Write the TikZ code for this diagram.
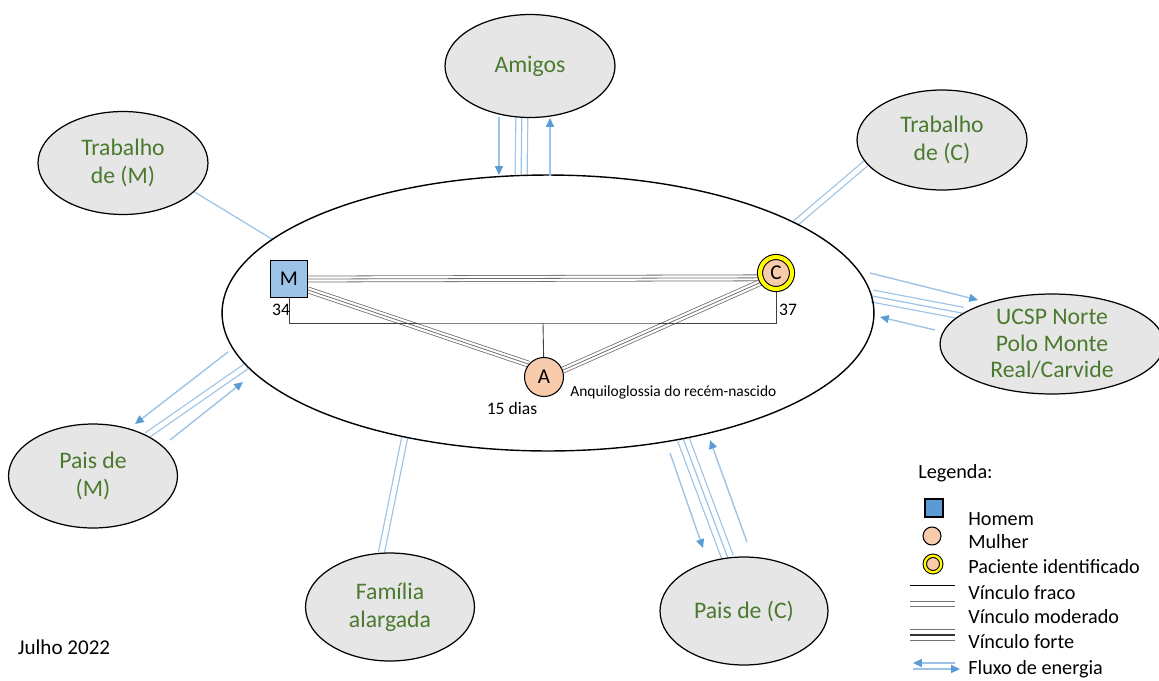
\documentclass[tikz,border=0pt]{standalone}
\usepackage{fontspec}
\setmainfont{Carlito}
\usetikzlibrary{shapes.geometric,arrows.meta,backgrounds}
\definecolor{cinza}{HTML}{E7E6E6}
\definecolor{verde}{HTML}{4A7A2E}
\definecolor{azulclaro}{HTML}{9DC3E6}
\definecolor{azul}{HTML}{5B9BD5}
\definecolor{pele}{HTML}{F8CBAD}
\definecolor{amarelo}{HTML}{FFFF00}
\definecolor{traco}{HTML}{6E6E6E}
\tikzset{
    sistema/.style={ellipse, draw, line width=0.7pt, fill=cinza, text=verde, align=center, inner sep=0pt, font=\fontsize{13.5}{16}\selectfont},
    homem/.style={draw, line width=0.6pt, fill=azulclaro, minimum size=0.74cm, inner sep=0pt, font=\fontsize{12}{14}\selectfont},
    mulher/.style={circle, draw, line width=0.6pt, fill=pele, minimum size=0.78cm, inner sep=0pt, font=\fontsize{12}{14}\selectfont},
    paciente/.style={circle, draw, line width=0.6pt, double=amarelo, double distance=2.3pt, fill=pele, minimum size=0.64cm, inner sep=0pt, font=\fontsize{12}{14}\selectfont},
    rotulo/.style={inner sep=0pt, font=\fontsize{10}{12}\selectfont},
    legenda/.style={anchor=west, inner sep=0pt, font=\fontsize{11.5}{14}\selectfont},
    fraco/.style={draw=azulclaro, line width=0.7pt},
    moderado/.style={draw=white, line width=2.7pt, preaction={draw=azulclaro, line width=4.1pt}},
    forte/.style={draw=azulclaro, line width=0.7pt, preaction={draw=azulclaro, line width=7.5pt}, preaction={draw=white, line width=6.1pt}},
    gfraco/.style={draw=black!75, line width=0.5pt},
    gforte/.style={draw=traco, line width=0.45pt, preaction={draw=traco, line width=3.85pt}, preaction={draw=white, line width=2.95pt}},
    lmoderado/.style={draw=white, line width=2pt, preaction={draw=black!55, line width=3.2pt}},
    lforte/.style={draw=black!80, line width=0.6pt, preaction={draw=black!55, line width=6.8pt}, preaction={draw=white, line width=5.6pt}},
    fluxo/.style={draw=azulclaro, line width=0.8pt, -{Triangle[length=5pt, width=4.5pt, color=azul]}}
}
\begin{document}
\begin{tikzpicture}[x=0.02cm, y=-0.02cm]
    \useasboundingbox (0,0) rectangle (1159,680);
    \node[ellipse, draw, line width=0.8pt, minimum width=13.04cm, minimum height=5.52cm] (sis) at (548,313) {};
    \node[sistema, minimum width=3.4cm, minimum height=2.06cm] (am) at (530,66) {Amigos};
    \node[sistema, minimum width=3.4cm, minimum height=2.06cm] (tm) at (123,163) {Trabalho\\de (M)};
    \node[sistema, minimum width=3.4cm, minimum height=2cm] (tc) at (942,140) {Trabalho\\de (C)};
    \node[sistema, minimum width=4.48cm, minimum height=2cm, font=\fontsize{13.5}{15}\selectfont] (ucsp) at (1052,344) {UCSP Norte\\Polo Monte\\Real/Carvide};
    \node[sistema, minimum width=3.38cm, minimum height=2.08cm] (pm) at (93,476) {Pais de\\(M)};
    \node[sistema, minimum width=3.38cm, minimum height=2.16cm] (fa) at (390,607) {Família\\alargada};
    \node[sistema, minimum width=3.36cm, minimum height=2.16cm] (pc) at (744,611) {Pais de (C)};
    \node[homem] (m) at (289,279) {M};
    \node[paciente] (c) at (776,273) {C};
    \node[mulher] (a) at (544,377) {A};
    \node[rotulo] (im) at (281,310) {34};
    \node[rotulo] (ic) at (788,310) {37};
    \node[rotulo] (ia) at (512,408) {15 dias};
    \node[rotulo, anchor=west, font=\fontsize{8.8}{10}\selectfont] (diag) at (570,392) {Anquiloglossia do recém-nascido};
    \node[rotulo, font=\fontsize{12}{14}\selectfont] (data) at (64,647) {Julho 2022};
    \coordinate (u) at (543,323);
    \coordinate (am1) at (499,117);
    \coordinate (am2) at (499,175);
    \coordinate (am3) at (550,176);
    \coordinate (am4) at (550,118);
    \coordinate (uc1) at (870,273);
    \coordinate (uc2) at (978,300);
    \coordinate (uc3) at (935,330);
    \coordinate (uc4) at (880,317);
    \coordinate (pm1) at (228,352);
    \coordinate (pm2) at (135,424);
    \coordinate (pm3) at (170,440);
    \coordinate (pm4) at (243,382);
    \coordinate (pc1) at (670,453);
    \coordinate (pc2) at (703,548);
    \coordinate (pc3) at (747,542);
    \coordinate (pc4) at (710,440);
    \begin{scope}[on background layer]
    \draw[fraco] (tm.-22) -- (sis.165);
    \draw[forte] (am.-99) -- (sis.101);
    \draw[moderado] (tc.-163) -- (sis.20);
    \draw[forte] (ucsp.161) -- (sis.3);
    \draw[moderado] (pm.37) -- (sis.-170);
    \draw[moderado] (fa.99) -- (sis.-139);
    \draw[forte] (pc.107) -- (sis.-43);
    \draw[gforte] (m.east) -- (c.197);
    \draw[gforte] (m.-30) -- (a.140);
    \draw[gforte] (c.212) -- (a.20);
    \draw[gfraco] (m.south) |- (u) -| (c.south);
    \draw[gfraco] (u) -- (a);
    \end{scope}
    \draw[fluxo] (am1) -- (am2);
    \draw[fluxo] (am3) -- (am4);
    \draw[fluxo] (uc1) -- (uc2);
    \draw[fluxo] (uc3) -- (uc4);
    \draw[fluxo] (pm1) -- (pm2);
    \draw[fluxo] (pm3) -- (pm4);
    \draw[fluxo] (pc1) -- (pc2);
    \draw[fluxo] (pc3) -- (pc4);
    \node[legenda] (leg) at (918,473) {Legenda:};
    \node[homem, fill=azul, minimum size=0.36cm] (lh) at (934,508) {};
    \node[legenda] (th) at (968,519) {Homem};
    \node[mulher, minimum size=0.36cm] (lm) at (932,536) {};
    \node[legenda] (tmu) at (968,542) {Mulher};
    \node[paciente, minimum size=0.33cm, double distance=1.3pt] (lp) at (933,564) {};
    \node[legenda] (tp) at (968,567) {Paciente identificado};
    \node[legenda] (tf) at (968,593) {Vínculo fraco};
    \node[legenda] (tmo) at (968,617) {Vínculo moderado};
    \node[legenda] (tfo) at (968,642) {Vínculo forte};
    \node[legenda] (tfl) at (968,669) {Fluxo de energia};
    \draw[gfraco, draw=black] (910,585) -- (955,585);
    \draw[lmoderado] (910,604) -- (955,604);
    \draw[lforte] (910,635) -- (955,635);
    \draw[fluxo] (955,663) -- (913,663);
    \draw[fluxo] (913,669) -- (960,669);
\end{tikzpicture}
\end{document}
